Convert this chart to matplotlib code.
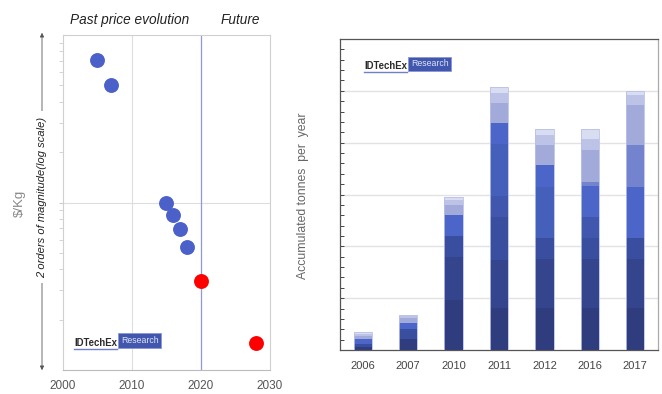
import matplotlib
matplotlib.use("Agg")
import matplotlib.pyplot as plt
import numpy as np
from matplotlib.patches import FancyArrowPatch
from matplotlib.lines import Line2D

plt.rcParams['font.family'] = ['Liberation Sans', 'DejaVu Sans']

# ---------------- data: left chart (price, log scale, arbitrary units) -------------
past_years = [2005, 2007, 2015, 2016, 2017, 2018]
past_price = [70.7, 50.0, 10.0, 8.4, 6.9, 5.4]
future_years = [2020, 2028]
future_price = [3.4, 1.45]
left_xticks = [2000, 2010, 2020, 2030]

# ---------------- data: right chart (stacked bars, arbitrary units) ----------------
bar_years = ['2006', '2007', '2010', '2011', '2012', '2016', '2017']
layer0 = [0.06, 0.21, 0.97, 0.81, 0.81, 0.81, 0.81]
layer1 = [0.00, 0.00, 0.83, 0.93, 0.95, 0.95, 0.95]
layer2 = [0.06, 0.20, 0.40, 0.83, 0.40, 0.40, 0.40]
layer3 = [0.00, 0.00, 0.00, 0.40, 0.00, 0.41, 0.00]
layer4 = [0.00, 0.00, 0.00, 1.01, 0.99, 0.00, 0.00]
layer5 = [0.09, 0.12, 0.41, 0.40, 0.42, 0.60, 0.99]
layer6 = [0.00, 0.00, 0.00, 0.00, 0.00, 0.07, 0.81]
layer7 = [0.06, 0.08, 0.19, 0.39, 0.39, 0.62, 0.77]
layer8 = [0.04, 0.04, 0.10, 0.19, 0.19, 0.21, 0.19]
layer9 = [0.04, 0.03, 0.06, 0.11, 0.12, 0.20, 0.08]
layers = [layer0, layer1, layer2, layer3, layer4, layer5, layer6, layer7, layer8, layer9]
layer_colors = ['#2f3c7e', '#34458e', '#3a4e9f', '#4057ad', '#4560bb',
                '#4b66c8', '#7483cd', '#a2aad9', '#bdc3e6', '#d9ddf1']

W, H = 662, 394
fig = plt.figure(figsize=(W / 100, H / 100), dpi=100)
fig.patch.set_facecolor('white')

def fx(px):
    return px / W

def fy(py):
    return 1 - py / H

# ================= LEFT CHART =================
axL = fig.add_axes([fx(63), fy(370), fx(270) - fx(63), fy(35) - fy(370)])
axL.set_yscale('log')
axL.set_ylim(1, 100)
axL.set_xlim(2000, 2030)
axL.set_xticks(left_xticks)
axL.set_xticklabels([str(v) for v in left_xticks], fontsize=8.5, color='#555555')
axL.tick_params(axis='x', length=0, pad=7)
axL.set_yticks([10])
axL.yaxis.set_minor_locator(matplotlib.ticker.LogLocator(base=10, subs=np.arange(2, 10)))
axL.yaxis.set_minor_formatter(matplotlib.ticker.NullFormatter())
axL.set_yticklabels([])
axL.tick_params(axis='y', which='both', length=3, color='#cccccc', direction='out')
for s in axL.spines.values():
    s.set_color('#d0d0d0')
    s.set_linewidth(0.8)
axL.spines['bottom'].set_color('#bbbbbb')
axL.axvline(2010, color='#dddddd', lw=0.8, zorder=0)
axL.axhline(10, color='#dddddd', lw=0.8, zorder=0)
axL.axvline(2020, color='#8f98d8', lw=0.9, zorder=1)
axL.scatter(past_years, past_price, s=115, color='#4b61c9', zorder=3, linewidths=0)
axL.scatter(future_years, future_price, s=115, color='#ff0000', zorder=3, linewidths=0)

fig.text(fx(130), fy(20), 'Past price evolution', fontsize=9.8, style='italic',
         ha='center', va='center', color='#222222')
fig.text(fx(240), fy(20), 'Future', fontsize=9.8, style='italic',
         ha='center', va='center', color='#222222')

# vertical double arrow with text
arr = FancyArrowPatch((fx(42), fy(373)), (fx(42), fy(30)), transform=fig.transFigure,
                      arrowstyle='<|-|>', mutation_scale=6, color='#555555', lw=0.6)
fig.add_artist(arr)
fig.text(fx(42), fy(197), '2 orders of magnitude(log scale)', rotation=90, fontsize=8,
         style='italic', ha='center', va='center', color='#222222',
         bbox=dict(facecolor='white', edgecolor='none', pad=4))
fig.text(fx(20), fy(203), '$/Kg', rotation=90, fontsize=9.5, ha='center', va='center',
         color='#888888')

def add_logo(x0, ybase, box_x, box_y):
    fig.text(fx(x0), fy(ybase), 'IDTechEx', fontsize=6.9, fontweight='bold', ha='left',
             va='baseline', color='#2a2a2a')
    fig.add_artist(Line2D([fx(x0), fx(x0 + 43)], [fy(ybase + 3), fy(ybase + 3)],
                          transform=fig.transFigure, color='#6f7fc8', lw=1.0))
    fig.text(fx(box_x), fy(box_y), 'Research', fontsize=6.3, ha='left', va='center',
             color='#dfe3f7',
             bbox=dict(facecolor='#4057ad', edgecolor='#8a96d6', boxstyle='square,pad=0.3',
                       lw=0.6))

add_logo(74, 346, 121, 340.5)

# ================= RIGHT CHART =================
axR = fig.add_axes([fx(340), fy(350), fx(658) - fx(340), fy(39) - fy(350)])
x = np.arange(len(bar_years))
bottom = np.zeros(len(bar_years))
for vals, col in zip(layers, layer_colors):
    v = np.array(vals)
    axR.bar(x, v, width=0.4, bottom=bottom, color=col, edgecolor='none', zorder=2)
    bottom += v
# subtle light outline of bars
axR.bar(x, bottom, width=0.4, color='none', edgecolor='#b8c0ea', lw=0.6, zorder=3)
axR.set_xlim(-0.5, len(bar_years) - 0.5)
axR.set_ylim(0, 6)
axR.set_xticks(x)
axR.set_xticklabels(bar_years, fontsize=8, color='#444444')
axR.tick_params(axis='x', length=0, pad=8)
axR.set_yticks([0, 1, 2, 3, 4, 5, 6])
axR.set_yticklabels([])
axR.yaxis.set_minor_locator(matplotlib.ticker.MultipleLocator(0.2))
axR.tick_params(axis='y', which='both', length=3, direction='in', color='#444444', width=0.7)
for yv in [1, 2, 3, 4, 5]:
    axR.axhline(yv, color='#e2e2e2', lw=1.0, zorder=1)
for s in axR.spines.values():
    s.set_color('#555555')
    s.set_linewidth(0.9)
axR.spines['right'].set_color('#aaaaaa')

fig.text(fx(303), fy(196), 'Accumulated tonnes  per  year', rotation=90, fontsize=8.8,
         ha='center', va='center', color='#666666')

add_logo(364, 69, 411, 64)

fig.savefig('out.png', dpi=100, facecolor='white')
